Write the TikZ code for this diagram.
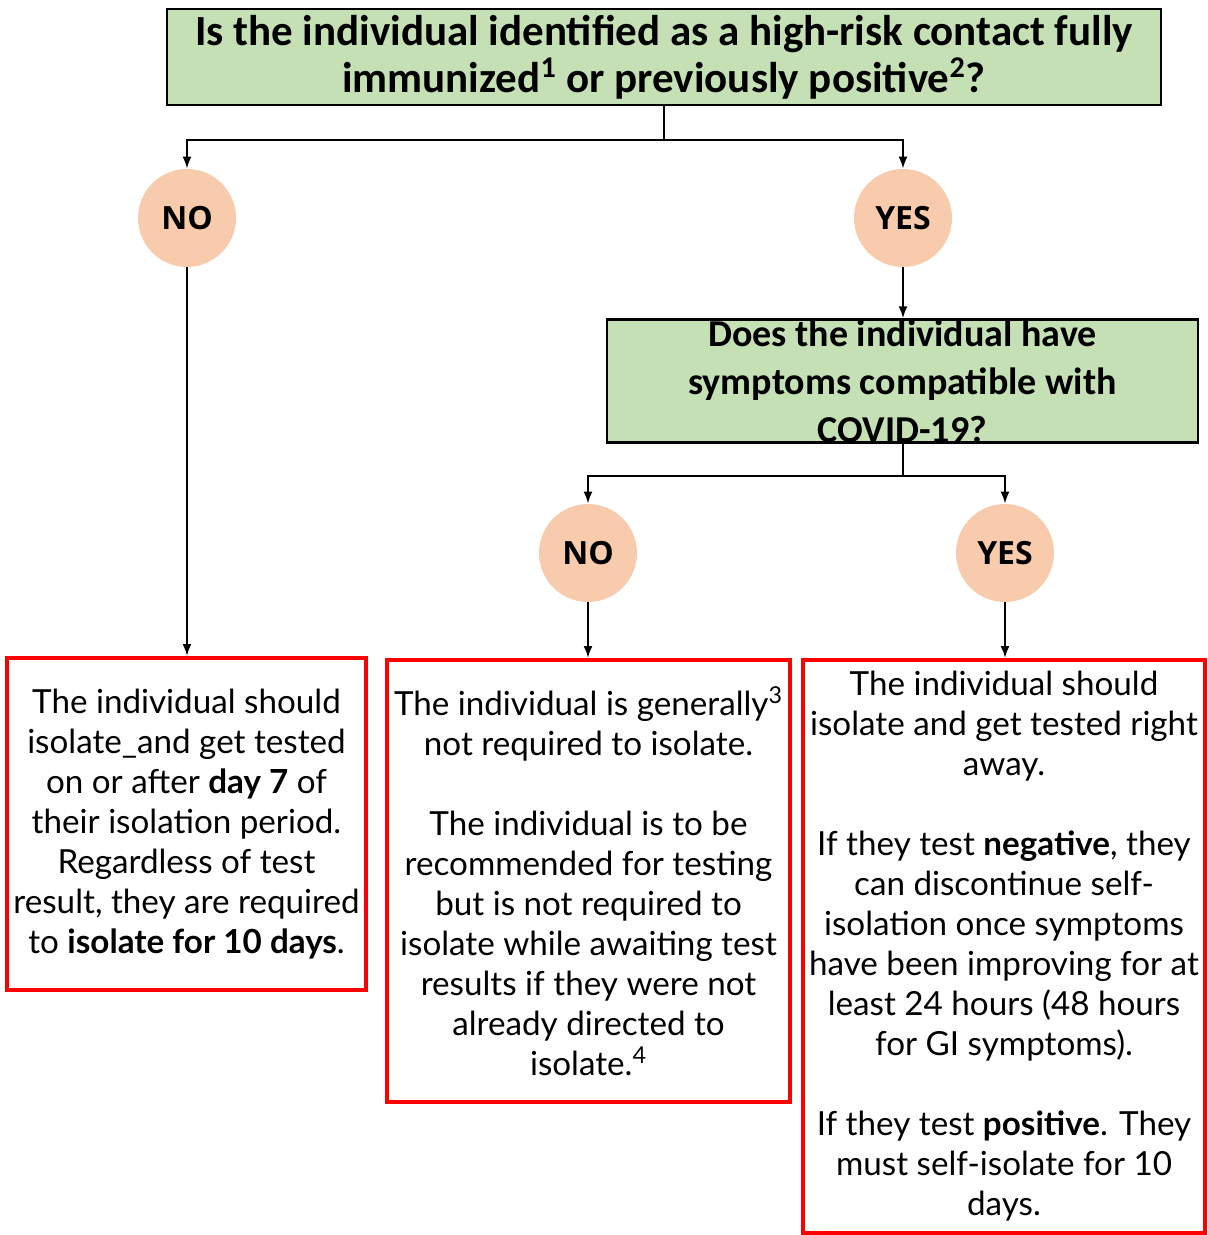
\documentclass[tikz,border=0pt]{standalone}
\usepackage{fontspec}
\setmainfont{Lato}
\newfontfamily\headfont{Carlito}
\newfontfamily\answerfont{Open Sans}
\usetikzlibrary{positioning,arrows.meta}

\definecolor{qgreen}{HTML}{C5E0B4}
\definecolor{apeach}{HTML}{F8CBAD}
\definecolor{bred}{HTML}{FF0000}

\tikzset{
  question/.style={draw=black, line width=1.2pt, fill=qgreen, align=center,
    inner sep=0pt, font=\headfont\bfseries},
  answer/.style={circle, fill=apeach, minimum size=49pt, inner sep=0pt,
    font=\answerfont\bfseries\fontsize{16}{18}\selectfont},
  outcome/.style={draw=bred, line width=2pt, align=center, inner sep=0pt,
    font=\fontsize{16.6}{20}\selectfont},
  link/.style={-{Latex[length=6pt,width=4.5pt]}, line width=1pt}
}

\begin{document}
\begin{tikzpicture}[x=0.5pt, y=-0.5pt]
  \useasboundingbox (0,0) rectangle (1207,1235);

  \node[question, minimum width=497pt, minimum height=48pt, font=\headfont\bfseries\fontsize{21.5}{23.5}\selectfont]
    (immunized) at (664,57)
    {Is the individual identified as a high-risk contact fully\\
     immunized\textsuperscript{1} or previously positive\textsuperscript{2}?};

  \node[answer] (no1)  at (187,218) {NO};
  \node[answer] (yes1) at (903,218) {YES};

  \node[question, minimum width=295.5pt, minimum height=61pt, font=\headfont\bfseries\fontsize{19}{24}\selectfont]
    (symptoms) at (902.5,381)
    {Does the individual have\\ symptoms compatible with\\ COVID-19?};

  \node[answer] (no2)  at (588,553)  {NO};
  \node[answer] (yes2) at (1005,553) {YES};

  \node[outcome, minimum width=179.5pt, minimum height=166pt] (tenday) at (186.5,824)
    {The individual should\\ isolate\_and get tested\\ on or after \textbf{day 7} of\\
     their isolation period.\\ Regardless of test\\ result, they are required\\
     to \textbf{isolate for 10 days}.};

  \node[outcome, minimum width=201.5pt, minimum height=221pt] (notest) at (588.5,881)
    {The individual is generally\textsuperscript{3}\\ not required to isolate.\\[20pt]
     The individual is to be\\ recommended for testing\\ but is not required to\\
     isolate while awaiting test\\ results if they were not\\ already directed to\\
     isolate.\textsuperscript{4}};

  \node[outcome, minimum width=201pt, minimum height=286.5pt] (testnow) at (1004,946.5)
    {The individual should\\ isolate and get tested right\\ away.\\[20pt]
     If they test \textbf{negative}, they\\ can discontinue self-\\
     isolation once symptoms\\ have been improving for at\\ least 24 hours (48 hours\\
     for GI symptoms).\\[20pt]
     If they test \textbf{positive}. They\\ must self-isolate for 10\\ days.};

  \draw[link] (immunized.south) -- ++(0,34) -| (no1.north);
  \draw[link] (immunized.south) -- ++(0,34) -| (yes1.north);
  \draw[link] (no1.south) -- (no1.south |- tenday.north);
  \draw[link] (yes1.south) -- (yes1.south |- symptoms.north);

  \draw[link] (symptoms.south) -- ++(0,32) -| (no2.north);
  \draw[link] (symptoms.south) -- ++(0,32) -| (yes2.north);
  \draw[link] (no2.south) -- (no2.south |- notest.north);
  \draw[link] (yes2.south) -- (yes2.south |- testnow.north);
\end{tikzpicture}
\end{document}
